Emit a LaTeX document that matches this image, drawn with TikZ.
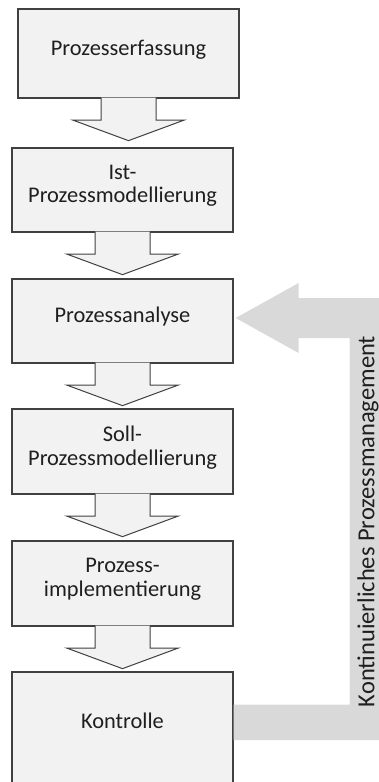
\documentclass[tikz,border=0pt]{standalone}
\usepackage{fontspec}
\setmainfont{Carlito}
\usetikzlibrary{calc}
\definecolor{boxfill}{HTML}{F2F2F2}
\definecolor{boxline}{HTML}{404040}
\definecolor{fbgrey}{HTML}{D9D9D9}
\definecolor{txtgrey}{HTML}{1F1F1F}
\tikzset{
  stepbox/.style={draw=boxline, fill=boxfill, line width=1.3pt, minimum width=221pt,
    minimum height=85pt, align=center, text=txtgrey, inner sep=0pt, text depth=12pt,
    font=\fontsize{22.4}{23.5}\selectfont},
  flowarrow/.style={draw=boxline, fill=boxfill, line width=1pt, line join=miter},
}
\begin{document}
\begin{tikzpicture}[x=1pt, y=-1pt]
    \useasboundingbox (0,0) rectangle (379,782);
    \clip (0,0) rectangle (379,782);

    % the steps, top to bottom
    \node[stepbox, minimum height=89pt] (erf) at (128.5,53.5) {Prozesserfassung};
    \node[stepbox, minimum height=84pt] (ist) at (122.5,190) {Ist-\\Prozessmodellierung};
    \node[stepbox, minimum height=84pt] (ana) at (122.5,321) {Prozessanalyse};
    \node[stepbox] (soll) at (122.5,451.5) {Soll-\\Prozessmodellierung};
    \node[stepbox] (impl) at (122.5,583.5) {Prozess-\\implementierung};
    % the last step runs out of the picture
    \node[stepbox, minimum height=140pt] (kon) at (122.5,742) {};
    \node[text=txtgrey, font=\fontsize{22.4}{23.5}\selectfont] (kontxt) at (122.5,721) {Kontrolle};

    % the block arrows between the steps
    \foreach \s in {erf,ist,ana,soll,impl}
    {
        \begin{scope}[shift={(\s.south)}]
            \draw[flowarrow] (-27.5,-1) -- (-27.5,21.5) -- (-55.5,21.5) -- (0,42)
                -- (55.5,21.5) -- (27.5,21.5) -- (27.5,-1);
        \end{scope}
    }

    % the grey feedback arrow from Kontrolle back to Prozessanalyse
    \coordinate (fbstart) at (kon.east |- kontxt);
    \coordinate (fbtip) at ($(ana.east)+(2,-3)$);
    \fill[fbgrey] ($(fbstart)+(0,-16.5)$) -- ++(116,0) |- ($(fbtip)+(63,20)$)
        -- ++(0,15) -- (fbtip) -- ++(63,-35) -- ++(0,15) -- ++(83,0)
        |- ($(fbstart)+(0,19)$) -- cycle;
    \node[rotate=90, text=txtgrey, font=\fontsize{24.5}{26}\selectfont] (kpm)
        at (368,521.5) {Kontinuierliches Prozessmanagement};
\end{tikzpicture}
\end{document}
